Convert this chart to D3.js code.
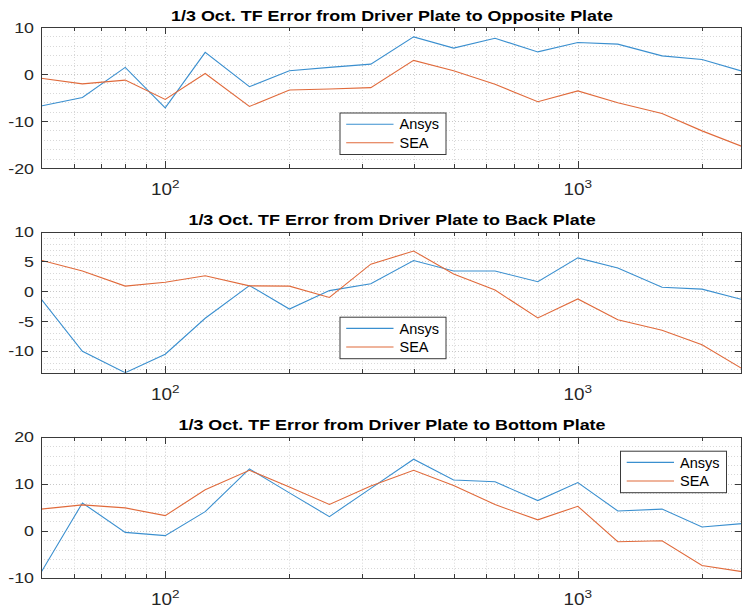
<!DOCTYPE html>
<html><head><meta charset="utf-8">
<script src="https://cdn.jsdelivr.net/npm/d3@7"></script>
<style>
body{margin:0;background:#fff;}
svg{display:block;font-family:"Liberation Sans",Arial,Helvetica,sans-serif;}
</style></head>
<body><svg id="c" width="743" height="613"></svg>
<script>
const freqs = [50,63,80,100,125,160,200,250,315,400,500,630,800,1000,1250,1600,2000,2500];
const seriesNames = ["Ansys","SEA"];
const titles = [
  "1/3 Oct. TF Error from Driver Plate to Opposite Plate",
  "1/3 Oct. TF Error from Driver Plate to Back Plate",
  "1/3 Oct. TF Error from Driver Plate to Bottom Plate"
];
const ansysOpposite = [-6.8,-5.0,1.4,-7.2,4.6,-2.7,0.7,1.4,2.1,7.9,5.5,7.6,4.7,6.7,6.35,3.85,3.1,0.6];
const seaOpposite   = [-0.9,-2.1,-1.3,-5.4,0.1,-6.9,-3.4,-3.2,-2.9,2.9,0.7,-2.2,-5.9,-3.6,-6.1,-8.4,-12.1,-15.4];
const ansysBack     = [-1.3,-10.1,-13.7,-10.6,-4.55,0.95,-3.0,0.1,1.25,5.15,3.4,3.4,1.6,5.6,3.9,0.65,0.35,-1.4];
const seaBack       = [5.2,3.4,0.85,1.5,2.6,0.9,0.85,-1.05,4.55,6.75,2.9,0.2,-4.5,-1.3,-4.8,-6.55,-9.0,-13.0];
const ansysBottom   = [-8.9,5.9,-0.35,-1.05,4.05,13.15,8.05,3.0,9.0,15.2,10.8,10.4,6.4,10.25,4.2,4.6,0.8,1.5];
const seaBottom     = [4.6,5.5,4.85,3.2,8.7,12.85,9.3,5.6,9.5,12.85,9.6,5.55,2.3,5.2,-2.35,-2.15,-7.4,-8.7];
const yDomains = [[-20,10],[-13.7,10],[-10,20]];
const yMajorTicks = [[-20,-10,0,10],[-10,-5,0,5,10],[-10,0,10,20]];
const yMinorStep = [2,1,2];
const xDomain = [50,2500];
const xMajorTicks = [100,1000];
const xTickExp = ["2","3"];

const colors = ["#3a8fcf","#e06a3b"];
const svg = d3.select("#c");
const L = 41, R = 742, H = 141;
const tops = [27, 231.7, 436.7];
const legendPos = [[339.5,112.5],[339.5,316.7],[620,450.7]];
const data = [[ansysOpposite,seaOpposite],[ansysBack,seaBack],[ansysBottom,seaBottom]];
const TITLE_W = 442;

const x = d3.scaleLog().domain(xDomain).range([L,R]);
const minorX = [];
for (let d=10; d<=1000; d*=10) for (let k=1;k<=9;k++){ const v=d*k; if(v>=xDomain[0]&&v<=xDomain[1]&&!xMajorTicks.includes(v)) minorX.push(v); }

// measure title stretch factor
const probe = svg.append("text").attr("font-size",15.5).attr("font-weight","bold").text(titles[0]);
const titleSx = TITLE_W / probe.node().getComputedTextLength();
probe.remove();

function stext(g, tx, ty, sx){
  return g.append("text").attr("transform",`translate(${tx},${ty}) scale(${sx},1)`);
}

for (let p=0;p<3;p++){
  const top = tops[p], bot = top+H;
  const y = d3.scaleLinear().domain(yDomains[p]).range([bot,top]);
  const g = svg.append("g");
  const clipId = "clip"+p;
  svg.append("clipPath").attr("id",clipId).append("rect").attr("x",L).attr("y",top).attr("width",R-L).attr("height",H);

  const ys = [];
  const s = yMinorStep[p];
  for (let v=Math.ceil(yDomains[p][0]/s)*s; v<=yDomains[p][1]+1e-9; v+=s) ys.push(v);
  g.selectAll(".gy").data(ys).enter().append("line")
    .attr("x1",L).attr("x2",R).attr("y1",d=>Math.round(y(d))+0.5).attr("y2",d=>Math.round(y(d))+0.5)
    .attr("stroke",d=>yMajorTicks[p].includes(d)?"#c8c8c8":"#d8d8d8").attr("stroke-width",1).attr("stroke-dasharray","1,2");
  g.selectAll(".gx").data(minorX.concat(xMajorTicks)).enter().append("line")
    .attr("y1",top).attr("y2",bot).attr("x1",d=>Math.round(x(d))+0.5).attr("x2",d=>Math.round(x(d))+0.5)
    .attr("stroke",d=>xMajorTicks.includes(d)?"#c8c8c8":"#d8d8d8").attr("stroke-width",1).attr("stroke-dasharray","1,2");

  const line = d3.line().x((d,i)=>x(freqs[i])).y(d=>y(d));
  data[p].forEach((arr,k)=>{
    g.append("path").datum(arr).attr("d",line).attr("fill","none")
      .attr("stroke",colors[k]).attr("stroke-width",1.1).attr("clip-path","url(#"+clipId+")");
  });

  const axc = "#3a3a3a";
  g.append("rect").attr("x",L+0.5).attr("y",Math.round(top)+0.5).attr("width",R-L-1).attr("height",Math.round(bot)-Math.round(top))
    .attr("fill","none").attr("stroke",axc).attr("stroke-width",1);
  [[xMajorTicks,7],[minorX,4]].forEach(([arr,len])=>{
    arr.forEach(v=>{
      const xx = Math.round(x(v))+0.5;
      g.append("line").attr("x1",xx).attr("x2",xx).attr("y1",Math.round(bot)).attr("y2",Math.round(bot)-len).attr("stroke",axc);
      g.append("line").attr("x1",xx).attr("x2",xx).attr("y1",Math.round(top)).attr("y2",Math.round(top)+len).attr("stroke",axc);
    });
  });
  yMajorTicks[p].forEach(v=>{
    const yy = Math.round(y(v))+0.5;
    g.append("line").attr("x1",L).attr("x2",L+7).attr("y1",yy).attr("y2",yy).attr("stroke",axc);
    g.append("line").attr("x1",R).attr("x2",R-7).attr("y1",yy).attr("y2",yy).attr("stroke",axc);
    stext(g, 34, y(v), 1.15).attr("dy","0.36em").attr("text-anchor","end")
      .attr("font-size",15.5).attr("fill","#262626").text(v);
  });
  xMajorTicks.forEach((v,i)=>{
    const t = stext(g, x(v), bot+27, 1.18).attr("text-anchor","middle").attr("font-size",16).attr("fill","#262626");
    t.append("tspan").text("10");
    t.append("tspan").attr("dy",-7).attr("font-size",11.5).text(xTickExp[i]);
  });
  stext(g, (L+R)/2+0.5, top-6.5, titleSx).attr("text-anchor","middle")
    .attr("font-size",15.5).attr("font-weight","bold").attr("fill","#000").text(titles[p]);

  const [lx,ly] = legendPos[p];
  const lg = g.append("g").attr("transform",`translate(${lx},${ly})`);
  lg.append("rect").attr("x",0.5).attr("y",0.5).attr("width",106).attr("height",41.5).attr("fill","#fff").attr("stroke",axc).attr("stroke-width",1);
  seriesNames.forEach((n,k)=>{
    const yy = 11.7 + k*18.6;
    lg.append("line").attr("x1",6.7).attr("x2",54).attr("y1",yy).attr("y2",yy).attr("stroke",colors[k]).attr("stroke-width",1.1);
    lg.append("text").attr("x",60).attr("y",yy).attr("dy","0.36em").attr("font-size",14.5).attr("fill","#000").text(n);
  });
}
</script></body></html>
